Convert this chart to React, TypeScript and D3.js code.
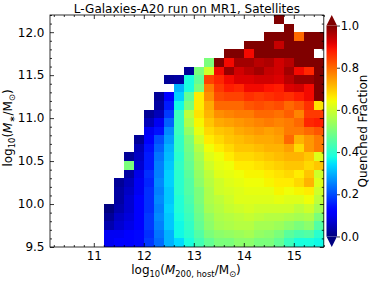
import React, { useEffect, useRef } from 'react';
import * as d3 from 'd3';

const WIDTH = 374;
const HEIGHT = 282;
const FONT = 'DejaVu Sans, Verdana, sans-serif';

// plot box (px) and colorbar box
const AX = { l: 50, r: 323.8, t: 15, b: 247 };
const CB = { l: 326.5, r: 337, t: 15, b: 247 };

const X_DOMAIN = [10.124, 15.6];
const Y_DOMAIN = [9.5, 12.2];

const xTicks = [11, 12, 13, 14, 15];
const yTicks = [9.5, 10.0, 10.5, 11.0, 11.5, 12.0];
const cbTicks = [0.0, 0.2, 0.4, 0.6, 0.8, 1.0];

// host halo mass bins (left edges, width 0.2 dex)
const xEdges = [
  11.2, 11.4, 11.6, 11.8, 12.0, 12.2, 12.4, 12.6, 12.8, 13.0, 13.2,
  13.4, 13.6, 13.8, 14.0, 14.2, 14.4, 14.6, 14.8, 15.0, 15.2, 15.4,
];
const X_BIN = 0.2;
// stellar mass bins (lower edges, width 0.1 dex), top row first
const yLows = [
  12.1, 12.0, 11.9, 11.8, 11.7, 11.6, 11.5, 11.4, 11.3, 11.2, 11.1, 11.0, 10.9, 10.8,
  10.7, 10.6, 10.5, 10.4, 10.3, 10.2, 10.1, 10.0, 9.9, 9.8, 9.7, 9.6, 9.5,
];
const Y_BIN = 0.1;

const _ = null;
// quenched fraction per stellar mass row (one value per host mass bin)
const q121 = [_, _, _, _, _, _, _, _, _, _, _, _, _, _, _, _, _, 1.0, _, _, _, _];
const q120 = [_, _, _, _, _, _, _, _, _, _, _, _, _, _, _, _, _, _, 1.0, _, _, _];
const q119 = [_, _, _, _, _, _, _, _, _, _, _, _, _, _, _, _, 1.0, 1.0, 1.0, 0.8, 1.0, 1.0];
const q118 = [_, _, _, _, _, _, _, _, _, _, _, _, _, _, 1.0, 1.0, 1.0, 0.94, 1.0, 1.0, 1.0, 1.0];
const q117 = [_, _, _, _, _, _, _, _, _, _, _, _, 1.0, 1.0, 0.9, 1.0, 1.0, 1.0, 1.0, 1.0, 1.0, _];
const q116 = [_, _, _, _, _, _, _, _, _, _, 0.5, 1.0, 0.9, 0.97, 0.97, 0.95, 0.96, 0.93, 0.95, 1.0, 1.0, 1.0];
const q115 = [_, _, _, _, _, _, _, _, 0.02, 0.5, 0.6, 0.9, 0.98, 0.93, 0.95, 0.97, 0.94, 0.93, 0.97, 0.9, 0.87, 1.0];
const q114 = [_, _, _, _, _, _, 0.02, 0.03, 0.38, 0.47, 0.84, 0.87, 0.9, 0.92, 0.92, 0.93, 0.93, 0.92, 0.95, 0.98, 0.98, 1.0];
const q113 = [_, _, _, _, _, _, _, 0.3, 0.38, 0.5, 0.78, 0.85, 0.88, 0.87, 0.9, 0.9, 0.89, 0.88, 0.92, 0.93, 0.9, 1.0];
const q112 = [_, _, _, _, _, 0.02, 0.12, 0.33, 0.47, 0.66, 0.76, 0.83, 0.84, 0.84, 0.86, 0.85, 0.86, 0.87, 0.86, 0.88, 0.9, 1.0];
const q111 = [_, _, _, _, _, 0.03, 0.15, 0.37, 0.5, 0.66, 0.73, 0.8, 0.8, 0.8, 0.82, 0.83, 0.82, 0.83, 0.8, 0.82, 0.86, 0.67];
const q110 = [_, _, _, _, 0.02, 0.05, 0.18, 0.42, 0.58, 0.67, 0.72, 0.76, 0.77, 0.78, 0.78, 0.8, 0.8, 0.79, 0.81, 0.77, 0.85, 0.85];
const q109 = [_, _, _, _, 0.05, 0.1, 0.22, 0.42, 0.56, 0.65, 0.7, 0.73, 0.74, 0.75, 0.76, 0.77, 0.78, 0.77, 0.78, 0.8, 0.87, 0.88];
const q108 = [_, _, _, _, 0.1, 0.14, 0.26, 0.42, 0.53, 0.63, 0.68, 0.7, 0.71, 0.73, 0.74, 0.75, 0.74, 0.75, 0.78, 0.78, 0.8, 0.82];
const q107 = [_, _, _, 0.02, 0.12, 0.2, 0.28, 0.41, 0.5, 0.6, 0.66, 0.68, 0.7, 0.71, 0.72, 0.73, 0.73, 0.74, 0.8, 0.72, 0.75, 0.78];
const q106 = [_, _, _, 0.05, 0.14, 0.22, 0.3, 0.41, 0.49, 0.57, 0.64, 0.66, 0.68, 0.7, 0.7, 0.71, 0.72, 0.72, 0.74, 0.68, 0.75, 0.78];
const q105 = [_, _, 0.02, 0.06, 0.15, 0.24, 0.31, 0.4, 0.48, 0.55, 0.62, 0.64, 0.66, 0.68, 0.68, 0.69, 0.7, 0.71, 0.72, 0.72, 0.7, 0.62];
const q104 = [_, _, 0.5, 0.07, 0.15, 0.25, 0.32, 0.41, 0.47, 0.54, 0.6, 0.63, 0.64, 0.66, 0.66, 0.67, 0.68, 0.69, 0.7, 0.7, 0.68, 0.7];
const q103 = [_, _, 0.03, 0.09, 0.17, 0.25, 0.33, 0.4, 0.46, 0.53, 0.58, 0.62, 0.63, 0.64, 0.65, 0.65, 0.66, 0.67, 0.68, 0.66, 0.7, 0.6];
const q102 = [_, 0.02, 0.05, 0.1, 0.16, 0.26, 0.33, 0.4, 0.45, 0.52, 0.57, 0.6, 0.62, 0.63, 0.64, 0.64, 0.65, 0.66, 0.66, 0.68, 0.72, 0.62];
const q101 = [_, 0.03, 0.06, 0.1, 0.17, 0.25, 0.32, 0.4, 0.45, 0.5, 0.56, 0.6, 0.61, 0.62, 0.63, 0.63, 0.63, 0.65, 0.64, 0.65, 0.66, 0.6];
const q100 = [_, 0.03, 0.07, 0.11, 0.17, 0.26, 0.32, 0.39, 0.44, 0.5, 0.56, 0.58, 0.6, 0.62, 0.62, 0.62, 0.62, 0.63, 0.62, 0.62, 0.64, 0.58];
const q099 = [0.0, 0.04, 0.07, 0.11, 0.17, 0.25, 0.33, 0.39, 0.43, 0.49, 0.55, 0.57, 0.59, 0.6, 0.61, 0.6, 0.6, 0.6, 0.6, 0.58, 0.6, 0.55];
const q098 = [0.02, 0.06, 0.08, 0.12, 0.18, 0.26, 0.32, 0.38, 0.42, 0.48, 0.53, 0.56, 0.57, 0.58, 0.59, 0.58, 0.57, 0.57, 0.56, 0.55, 0.56, 0.5];
const q097 = [0.04, 0.07, 0.09, 0.12, 0.18, 0.25, 0.32, 0.37, 0.41, 0.47, 0.52, 0.55, 0.56, 0.57, 0.57, 0.55, 0.55, 0.54, 0.52, 0.5, 0.52, 0.45];
const q096 = [0.1, 0.1, 0.11, 0.13, 0.17, 0.24, 0.3, 0.37, 0.4, 0.45, 0.5, 0.52, 0.53, 0.54, 0.55, 0.53, 0.52, 0.5, 0.46, 0.44, 0.45, 0.4];
const q095 = [0.1, 0.11, 0.12, 0.13, 0.18, 0.23, 0.3, 0.34, 0.38, 0.43, 0.47, 0.5, 0.5, 0.52, 0.52, 0.5, 0.5, 0.47, 0.42, 0.38, 0.38, 0.37];

const fracRows = [
  q121, q120, q119, q118, q117, q116, q115, q114, q113, q112, q111, q110, q109, q108,
  q107, q106, q105, q104, q103, q102, q101, q100, q099, q098, q097, q096, q095,
];

// matplotlib 'jet'
const jetR = d3.scaleLinear().domain([0, 0.35, 0.66, 0.89, 1]).range([0, 0, 1, 1, 0.5]).clamp(true);
const jetG = d3.scaleLinear().domain([0, 0.125, 0.375, 0.64, 0.91, 1]).range([0, 0, 1, 1, 0, 0]).clamp(true);
const jetB = d3.scaleLinear().domain([0, 0.11, 0.34, 0.65, 1]).range([0.5, 1, 1, 0, 0]).clamp(true);
const jet = (v: number) => d3.rgb(jetR(v) * 255, jetG(v) * 255, jetB(v) * 255).formatHex();

const SUB = 8.4;
const DROP = 2.6;

const App = () => {
  const xScale = d3.scaleLinear().domain(X_DOMAIN).range([AX.l, AX.r]);
  const yScale = d3.scaleLinear().domain(Y_DOMAIN).range([AX.b, AX.t]);

  // colorbar interior, 5% triangular extensions at both ends
  const ext = (CB.b - CB.t) / 1.1 * 0.05;
  const cbScale = d3.scaleLinear().domain([0, 1]).range([CB.b - ext, CB.t + ext]);
  const cbMid = (CB.l + CB.r) / 2;

  const $xb = useRef<SVGGElement>(null);
  const $xt = useRef<SVGGElement>(null);
  const $yl = useRef<SVGGElement>(null);
  const $yr = useRef<SVGGElement>(null);
  const $cb = useRef<SVGGElement>(null);

  useEffect(() => {
    const xMinor = d3.range(10.2, 15.61, 0.2).filter((d) => Math.abs(d - Math.round(d)) > 0.01);
    const yMinor = d3.range(9.6, 12.21, 0.1).filter((d) => Math.abs(d * 2 - Math.round(d * 2)) > 0.01);
    const none = () => '';

    const style = (g: any, size = 12) => {
      g.select('.domain').remove();
      g.selectAll('line').attr('stroke', '#000').attr('stroke-width', 0.8);
      g.selectAll('text').attr('font-family', FONT).attr('font-size', size).attr('fill', '#000');
    };

    const xb = d3.select($xb.current);
    xb.selectAll('*').remove();
    xb.append('g').call(d3.axisBottom(xScale).tickValues(xTicks).tickSize(-4).tickPadding(4.5).tickFormat(d3.format('d')) as any).call(style);
    xb.append('g').call(d3.axisBottom(xScale).tickValues(xMinor).tickSize(-2).tickFormat(none) as any).call(style);

    const xt = d3.select($xt.current);
    xt.selectAll('*').remove();
    xt.append('g').call(d3.axisTop(xScale).tickValues(xTicks).tickSize(-4).tickFormat(none) as any).call(style);
    xt.append('g').call(d3.axisTop(xScale).tickValues(xMinor).tickSize(-2).tickFormat(none) as any).call(style);

    const yl = d3.select($yl.current);
    yl.selectAll('*').remove();
    yl.append('g').call(d3.axisLeft(yScale).tickValues(yTicks).tickSize(-4).tickPadding(5.5).tickFormat(d3.format('.1f')) as any).call(style);
    yl.append('g').call(d3.axisLeft(yScale).tickValues(yMinor).tickSize(-2).tickFormat(none) as any).call(style);

    const yr = d3.select($yr.current);
    yr.selectAll('*').remove();
    yr.append('g').call(d3.axisRight(yScale).tickValues(yTicks).tickSize(-4).tickFormat(none) as any).call(style);
    yr.append('g').call(d3.axisRight(yScale).tickValues(yMinor).tickSize(-2).tickFormat(none) as any).call(style);

    const cb = d3.select($cb.current);
    cb.selectAll('*').remove();
    cb.append('g').call(d3.axisRight(cbScale).tickValues(cbTicks).tickSize(3).tickPadding(0.8).tickFormat(d3.format('.1f')) as any).call((g: any) => style(g, 11.5));
  }, []);

  const stops = d3.range(0, 1.0001, 0.02);

  return (
    <svg
      width={WIDTH}
      height={HEIGHT}
      viewBox={`0 0 ${WIDTH} ${HEIGHT}`}
      style={{ position: 'absolute', left: 0, top: 0, background: '#fff' }}
      fontFamily={FONT}
    >
      <defs>
        <linearGradient id="jetbar" x1="0" y1="1" x2="0" y2="0">
          {stops.map((s) => (
            <stop key={s} offset={s} stopColor={jet(s)} />
          ))}
        </linearGradient>
      </defs>

      {/* heatmap cells */}
      <g shapeRendering="crispEdges">
        {fracRows.map((row, k) =>
          row.map((v, c) => {
            if (v === null) return null;
            const x0 = xScale(xEdges[c]);
            const x1 = xScale(xEdges[c] + X_BIN);
            const y0 = yScale(yLows[k] + Y_BIN);
            const y1 = yScale(yLows[k]);
            return <rect key={`${k}-${c}`} x={x0} y={y0} width={x1 - x0} height={y1 - y0} fill={jet(v)} />;
          })
        )}
      </g>

      {/* axes */}
      <g ref={$xb} transform={`translate(0,${AX.b})`} />
      <g ref={$xt} transform={`translate(0,${AX.t})`} />
      <g ref={$yl} transform={`translate(${AX.l},0)`} />
      <g ref={$yr} transform={`translate(${AX.r},0)`} />
      <rect x={AX.l} y={AX.t} width={AX.r - AX.l} height={AX.b - AX.t} fill="none" stroke="#000" strokeWidth={0.8} />

      <text x={(AX.l + AX.r) / 2} y={13} textAnchor="middle" fontSize={12}>
        L-Galaxies-A20 run on MR1, Satellites
      </text>

      <text x={186} y={274} textAnchor="middle" fontSize={12}>
        log
        <tspan fontSize={SUB} dy={DROP}>10</tspan>
        <tspan dy={-DROP}>(</tspan>
        <tspan fontStyle="italic">M</tspan>
        <tspan fontSize={SUB} dy={DROP}>200, host</tspan>
        <tspan dy={-DROP}>/M</tspan>
        <tspan fontSize={SUB} dy={DROP}>⊙</tspan>
        <tspan dy={-DROP}>)</tspan>
      </text>

      <text transform={`translate(12,128) rotate(-90)`} textAnchor="middle" fontSize={12}>
        log
        <tspan fontSize={SUB} dy={DROP}>10</tspan>
        <tspan dy={-DROP}>(</tspan>
        <tspan fontStyle="italic">M</tspan>
        <tspan fontSize={SUB} dy={DROP}>∗</tspan>
        <tspan dy={-DROP}>/M</tspan>
        <tspan fontSize={SUB} dy={DROP}>⊙</tspan>
        <tspan dy={-DROP}>)</tspan>
      </text>

      {/* colorbar */}
      <rect x={CB.l} y={cbScale(1)} width={CB.r - CB.l} height={cbScale(0) - cbScale(1)} fill="url(#jetbar)" />
      <polygon points={`${CB.l},${cbScale(1)} ${CB.r},${cbScale(1)} ${cbMid},${CB.t}`} fill={jet(1)} />
      <polygon points={`${CB.l},${cbScale(0)} ${CB.r},${cbScale(0)} ${cbMid},${CB.b}`} fill={jet(0)} />
      <g ref={$cb} transform={`translate(${CB.r},0)`} />
      <text transform={`translate(367,${(CB.t + CB.b) / 2}) rotate(-90)`} textAnchor="middle" fontSize={12}>
        Quenched Fraction
      </text>
    </svg>
  );
};

export default App;
